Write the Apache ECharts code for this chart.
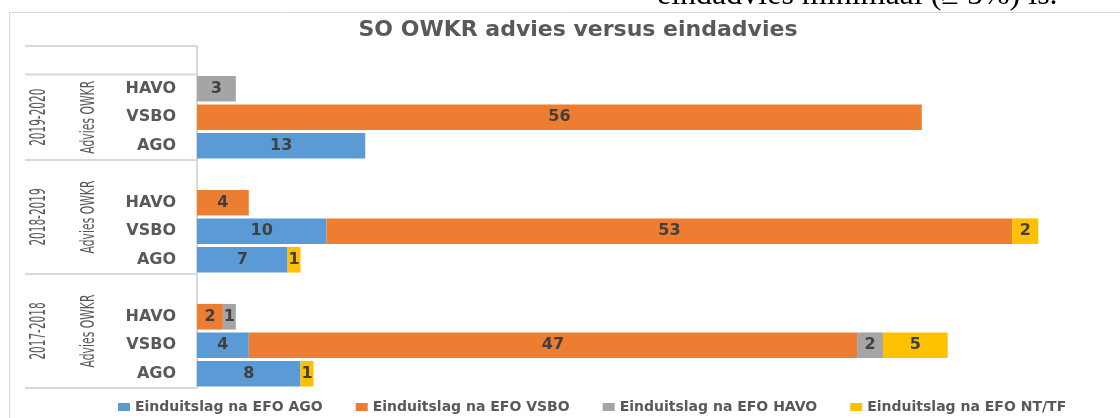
<!DOCTYPE html>
<html>
<head>
<meta charset="utf-8">
<script src="https://cdn.jsdelivr.net/npm/echarts@6/dist/echarts.min.js"></script>
<style>
    html, body { margin: 0; padding: 0; background: #fff; }
    #chart { width: 1120px; height: 418px; }
</style>
</head>
<body>
<div id="chart"></div>
<script>
// rows from top to bottom, '' = empty spacer row
const rowLabels = ['', 'HAVO', 'VSBO', 'AGO', '', 'HAVO', 'VSBO', 'AGO', '', 'HAVO', 'VSBO', 'AGO'];
const yearLabels = ['2019-2020', '2018-2019', '2017-2018'];
const yearRows = [[1, 3], [4, 7], [8, 11]];   // first / last row of each year block
const groupLabel = 'Advies OWKR';

const seriesNames = ['Einduitslag na EFO AGO', 'Einduitslag na EFO VSBO', 'Einduitslag na EFO HAVO', 'Einduitslag na EFO NT/TF'];
const efoAgo  = ['-', '-', '-', 13, '-', '-', 10, 7, '-', '-', 4, 8];
const efoVsbo = ['-', '-', 56, '-', '-', 4, 53, '-', '-', 2, 47, '-'];
const efoHavo = ['-', 3, '-', '-', '-', '-', '-', '-', '-', 1, 2, '-'];
const efoNtTf = ['-', '-', '-', '-', '-', '-', 2, 1, '-', '-', 5, 1];
const colors = ['#5B9BD5', '#ED7D31', '#A5A5A5', '#FFC000'];

const myChart = echarts.init(document.getElementById('chart'));
const font = 'DejaVu Sans';

function barSeries(name, data) {
    return {
        name: name,
        type: 'bar',
        stack: 'efo',
        barCategoryGap: '10%',
        data: data,
        label: {
            show: true,
            position: 'inside',
            color: '#404040',
            fontFamily: font,
            fontWeight: 'bold',
            fontSize: 16
        }
    };
}

const option = {
    animation: false,
    color: colors,
    title: {
        text: 'SO OWKR advies versus eindadvies',
        left: 573,
        textAlign: 'center',
        top: 14,
        textStyle: {
            fontFamily: font,
            fontWeight: 'bold',
            fontSize: 22,
            color: '#595959'
        }
    },
    legend: {
        data: seriesNames,
        left: 113,
        top: 395,
        icon: 'rect',
        itemWidth: 12,
        itemHeight: 8,
        itemGap: 33,
        textStyle: {
            fontFamily: font,
            fontWeight: 'bold',
            fontSize: 14,
            color: '#595959'
        }
    },
    grid: {
        left: 197,
        right: 17,
        top: 46,
        bottom: 30,
        containLabel: false,
        outerBoundsMode: 'none'
    },
    xAxis: {
        type: 'value',
        min: 0,
        max: 70,
        show: false
    },
    yAxis: {
        type: 'category',
        inverse: true,
        data: rowLabels,
        axisTick: {show: false},
        axisLine: {lineStyle: {color: '#d9d9d9', width: 2}},
        axisLabel: {
            margin: 21,
            fontFamily: font,
            fontWeight: 'bold',
            fontSize: 16,
            color: '#595959'
        }
    },
    series: [
        barSeries(seriesNames[0], efoAgo),
        barSeries(seriesNames[1], efoVsbo),
        barSeries(seriesNames[2], efoHavo),
        barSeries(seriesNames[3], efoNtTf)
    ]
};
myChart.setOption(option);

// group labels and separator lines, placed from the category axis
const rowY = function (i) {
    return myChart.convertToPixel({yAxisIndex: 0}, i);
};
const band = rowY(1) - rowY(0);
const rowTop = function (i) {
    return rowY(i) - band / 2;
};
const axisX = myChart.convertToPixel({xAxisIndex: 0}, 0) - 1;

const graphics = [
    {
        type: 'rect',
        silent: true,
        z: -10,
        shape: {x: 9.5, y: 12.5, width: 1200, height: 500},
        style: {fill: 'none', stroke: '#d9d9d9', lineWidth: 1}
    },
    {
        type: 'text',
        silent: true,
        x: 657,
        y: 12,
        style: {
            text: 'eindadvies minimaal (\u2265 5%) is.',
            font: '32px "Liberation Serif"',
            fill: '#000',
            verticalAlign: 'bottom',
            textVerticalAlign: 'bottom'
        }
    }
];

const lineRows = [rowTop(0), rowTop(1)];
yearRows.forEach(function (r) {
    lineRows.push(rowTop(r[1] + 1));
});
lineRows.forEach(function (y) {
    graphics.push({
        type: 'line',
        silent: true,
        shape: {x1: 25, y1: y, x2: axisX, y2: y},
        style: {stroke: '#d9d9d9', lineWidth: 2}
    });
});

yearRows.forEach(function (r, k) {
    const cy = (rowTop(r[0]) + rowTop(r[1] + 1)) / 2;
    graphics.push({
        type: 'text',
        silent: true,
        x: 40,
        y: cy,
        rotation: Math.PI / 2,
        scaleX: 0.5,
        style: {
            text: yearLabels[k],
            font: '21px "DejaVu Sans"',
            fill: '#595959',
            align: 'center',
            verticalAlign: 'middle',
            textAlign: 'center',
            textVerticalAlign: 'middle'
        }
    });
    graphics.push({
        type: 'text',
        silent: true,
        x: 89,
        y: cy,
        rotation: Math.PI / 2,
        scaleX: 0.54,
        style: {
            text: groupLabel,
            font: '20px "DejaVu Sans"',
            fill: '#595959',
            align: 'center',
            verticalAlign: 'middle',
            textAlign: 'center',
            textVerticalAlign: 'middle'
        }
    });
});

myChart.setOption({graphic: graphics});
</script>
</body>
</html>
